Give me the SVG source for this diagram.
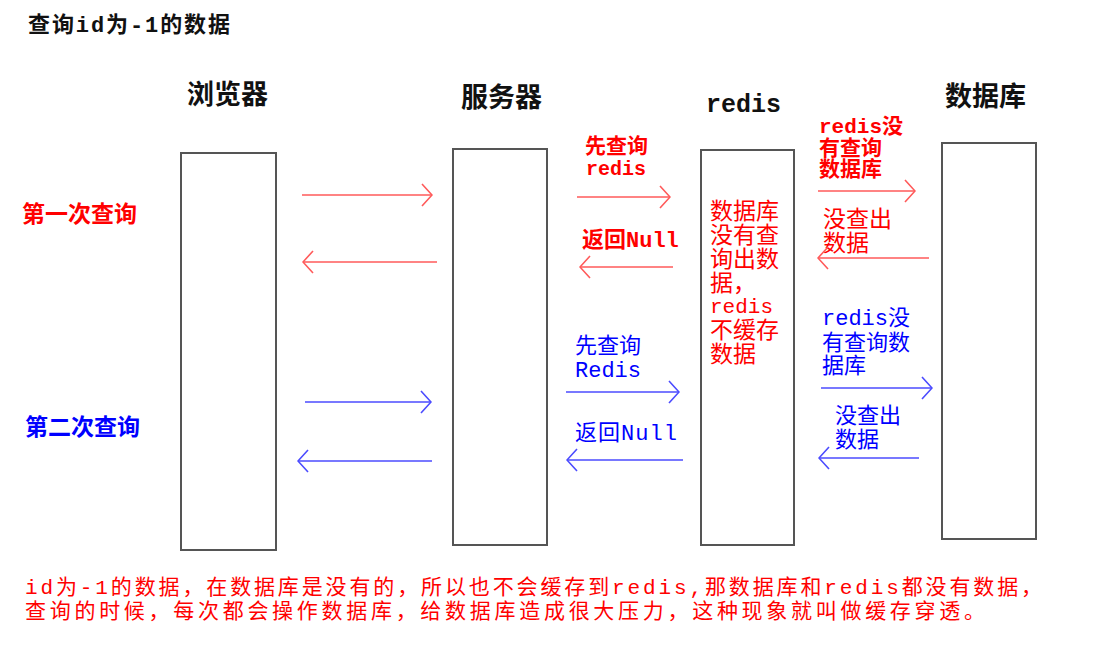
<svg xmlns="http://www.w3.org/2000/svg" width="1104" height="647" viewBox="0 0 1104 647">
<style>
text{font-family:"Liberation Mono","Noto Sans CJK SC",monospace}
.hd{font-size:27px;font-weight:bold;fill:#111}
.r{fill:#ff0000}
.b{fill:#0000ff}
.box{fill:#fff;stroke:#555;stroke-width:2}
.rl{stroke:#ff5a5a;stroke-width:1.6;fill:none;marker-end:url(#ar)}
.bl{stroke:#4b4bff;stroke-width:1.6;fill:none;marker-end:url(#ab)}
</style>
<defs>
<marker id="ar" viewBox="0 0 12 24" refX="11" refY="12" markerWidth="12" markerHeight="24" markerUnits="userSpaceOnUse" orient="auto"><path d="M1,1 L11,12 L1,23" fill="none" stroke="#ff5a5a" stroke-width="1.6"/></marker>
<marker id="ab" viewBox="0 0 12 24" refX="11" refY="12" markerWidth="12" markerHeight="24" markerUnits="userSpaceOnUse" orient="auto"><path d="M1,1 L11,12 L1,23" fill="none" stroke="#4b4bff" stroke-width="1.6"/></marker>
</defs>
<rect width="1104" height="647" fill="#fff"/>
<text x="28" y="32" textLength="202" lengthAdjust="spacing" style="font-size:22px;font-weight:bold;fill:#111">查询id为-1的数据</text>

<g id="browser"><rect class="box" x="181" y="153" width="95" height="397"/><text class="hd" x="187" y="104">浏览器</text></g>
<g id="server"><rect class="box" x="453" y="149" width="94" height="396"/><text class="hd" x="461" y="107">服务器</text></g>
<g id="redis"><rect class="box" x="701" y="150" width="93" height="395"/><text class="hd" x="706" y="112" style="font-size:25px">redis</text>
<g class="r" style="font-size:23px">
<text x="710" y="219">数据库</text><text x="710" y="243">没有查</text><text x="710" y="267">询出数</text><text x="710" y="291">据，</text><text x="710" y="313" style="font-size:21px">redis</text><text x="710" y="338">不缓存</text><text x="710" y="362">数据</text>
</g></g>
<g id="database"><rect class="box" x="942" y="143" width="94" height="396"/><text class="hd" x="945" y="106">数据库</text></g>

<g id="labels">
<text class="r" x="22" y="222" style="font-size:23px;font-weight:bold">第一次查询</text>
<text class="b" x="25" y="435" style="font-size:23px;font-weight:bold">第二次查询</text>
<g class="r" style="font-size:21px;font-weight:bold">
<text x="585" y="153">先查询</text><text x="586" y="175" style="font-size:20px">redis</text>
<text x="582" y="247" style="font-size:22px">返回Null</text>
<text x="819" y="133">redis没</text><text x="819" y="155">有查询</text><text x="819" y="176">数据库</text>
</g>
<g class="r" style="font-size:23px">
<text x="823" y="227">没查出</text><text x="823" y="251">数据</text>
</g>
<g class="b" style="font-size:22px">
<text x="575" y="353">先查询</text><text x="575" y="377">Redis</text>
<text x="575" y="440" textLength="102" lengthAdjust="spacing">返回Null</text>
<text x="822" y="325">redis没</text><text x="822" y="350">有查询数</text><text x="822" y="373">据库</text>
<text x="835" y="423">没查出</text><text x="835" y="447">数据</text>
</g>
</g>

<g id="connectors">
<line class="rl" x1="302" y1="195" x2="432" y2="195"/>
<line class="rl" x1="437" y1="262" x2="303" y2="262"/>
<line class="rl" x1="577" y1="197" x2="670" y2="197"/>
<line class="rl" x1="673" y1="267" x2="580" y2="267"/>
<line class="rl" x1="818" y1="191" x2="915" y2="191"/>
<line class="rl" x1="929" y1="258" x2="818" y2="258"/>
<line class="bl" x1="305" y1="402" x2="431" y2="402"/>
<line class="bl" x1="432" y1="461" x2="298" y2="461"/>
<line class="bl" x1="566" y1="392" x2="679" y2="392"/>
<line class="bl" x1="683" y1="460" x2="567" y2="460"/>
<line class="bl" x1="821" y1="388" x2="932" y2="388"/>
<line class="bl" x1="919" y1="458" x2="819" y2="458"/>
</g>

<g id="note" class="r" style="font-size:21px">
<text x="25" y="594" textLength="1017" lengthAdjust="spacing">id为-1的数据，在数据库是没有的，所以也不会缓存到redis,那数据库和redis都没有数据，</text>
<text x="25" y="618" textLength="960" lengthAdjust="spacing">查询的时候，每次都会操作数据库，给数据库造成很大压力，这种现象就叫做缓存穿透。</text>
</g>
</svg>
